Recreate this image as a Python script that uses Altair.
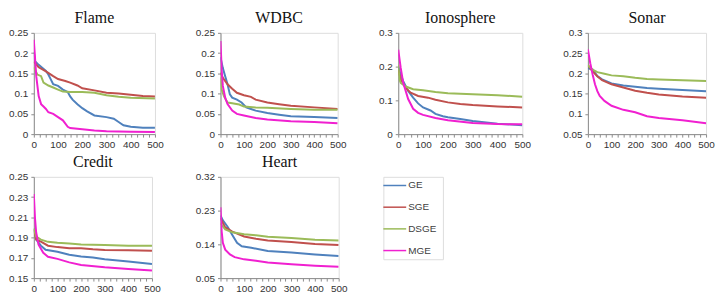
import altair as alt
import pandas as pd

SERIES = ["GE", "SGE", "DSGE", "MGE"]
COLORS = ["#4F81BD", "#C0504D", "#9BBB59", "#F020D0"]

# ---- Flame ----
flame_ge_x = [0, 5, 20, 50, 60, 70, 80, 100, 120, 140, 150, 160, 180, 200, 220, 250, 300, 330, 350, 370, 400, 450, 500]
flame_ge_y = [0.203, 0.18, 0.171, 0.156, 0.147, 0.135, 0.123, 0.119, 0.110, 0.104, 0.093, 0.085, 0.074, 0.064, 0.056, 0.046, 0.042, 0.038, 0.030, 0.022, 0.018, 0.016, 0.016]
flame_sge_x = [0, 20, 50, 80, 100, 130, 150, 180, 200, 250, 300, 350, 400, 450, 500]
flame_sge_y = [0.179, 0.165, 0.155, 0.143, 0.136, 0.131, 0.127, 0.120, 0.113, 0.108, 0.102, 0.100, 0.097, 0.094, 0.093]
flame_dsge_x = [0, 5, 15, 30, 40, 60, 80, 100, 120, 150, 200, 250, 300, 350, 400, 500]
flame_dsge_y = [0.165, 0.159, 0.147, 0.143, 0.127, 0.120, 0.115, 0.110, 0.105, 0.104, 0.104, 0.102, 0.096, 0.092, 0.090, 0.088]
flame_mge_x = [0, 10, 20, 30, 40, 50, 60, 80, 100, 120, 140, 150, 200, 250, 300, 400, 500]
flame_mge_y = [0.233, 0.143, 0.094, 0.074, 0.068, 0.062, 0.054, 0.050, 0.042, 0.034, 0.018, 0.015, 0.012, 0.009, 0.007, 0.006, 0.005]

# ---- WDBC ----
wdbc_ge_x = [0, 10, 20, 30, 40, 50, 70, 90, 110, 130, 150, 200, 250, 300, 400, 500]
wdbc_ge_y = [0.19, 0.163, 0.143, 0.123, 0.098, 0.09, 0.085, 0.078, 0.066, 0.062, 0.058, 0.052, 0.048, 0.044, 0.042, 0.040]
wdbc_sge_x = [0, 10, 30, 50, 70, 100, 130, 150, 200, 250, 300, 400, 500]
wdbc_sge_y = [0.152, 0.139, 0.123, 0.112, 0.102, 0.096, 0.092, 0.085, 0.078, 0.074, 0.070, 0.066, 0.062]
wdbc_dsge_x = [0, 5, 15, 30, 50, 80, 100, 150, 200, 300, 400, 500]
wdbc_dsge_y = [0.14, 0.11, 0.093, 0.078, 0.076, 0.073, 0.068, 0.066, 0.065, 0.062, 0.060, 0.060]
wdbc_mge_x = [0, 5, 10, 20, 30, 50, 70, 100, 150, 200, 300, 400, 500]
wdbc_mge_y = [0.23, 0.159, 0.119, 0.09, 0.074, 0.058, 0.05, 0.046, 0.04, 0.036, 0.032, 0.03, 0.027]

# ---- Ionosphere ----
iono_ge_x = [0, 10, 20, 40, 60, 80, 100, 130, 150, 180, 200, 250, 300, 400, 500]
iono_ge_y = [0.20, 0.176, 0.157, 0.128, 0.108, 0.091, 0.079, 0.070, 0.060, 0.053, 0.050, 0.045, 0.039, 0.031, 0.026]
iono_sge_x = [0, 10, 30, 50, 80, 120, 150, 200, 250, 300, 400, 500]
iono_sge_y = [0.19, 0.162, 0.137, 0.123, 0.113, 0.108, 0.102, 0.094, 0.089, 0.086, 0.082, 0.079]
iono_dsge_x = [0, 5, 10, 30, 60, 100, 150, 200, 300, 400, 500]
iono_dsge_y = [0.205, 0.162, 0.152, 0.141, 0.133, 0.130, 0.125, 0.121, 0.118, 0.115, 0.111]
iono_mge_x = [0, 10, 20, 40, 60, 80, 100, 150, 200, 300, 400, 500]
iono_mge_y = [0.25, 0.196, 0.152, 0.104, 0.075, 0.063, 0.057, 0.048, 0.041, 0.033, 0.030, 0.029]

# ---- Sonar ----
sonar_ge_x = [0, 20, 40, 60, 100, 150, 200, 250, 300, 400, 500]
sonar_ge_y = [0.213, 0.209, 0.193, 0.185, 0.175, 0.170, 0.167, 0.164, 0.162, 0.159, 0.156]
sonar_sge_x = [0, 20, 40, 60, 100, 150, 200, 250, 300, 400, 500]
sonar_sge_y = [0.22, 0.205, 0.193, 0.183, 0.173, 0.165, 0.157, 0.152, 0.148, 0.143, 0.140]
sonar_dsge_x = [0, 20, 40, 70, 100, 150, 200, 250, 300, 400, 500]
sonar_dsge_y = [0.22, 0.209, 0.203, 0.199, 0.195, 0.193, 0.189, 0.186, 0.185, 0.183, 0.181]
sonar_mge_x = [0, 10, 20, 30, 40, 50, 70, 100, 150, 200, 250, 300, 400, 500]
sonar_mge_y = [0.259, 0.225, 0.197, 0.173, 0.156, 0.144, 0.132, 0.12, 0.11, 0.104, 0.094, 0.09, 0.084, 0.077]

# ---- Credit ----
credit_ge_x = [0, 10, 30, 50, 100, 150, 200, 250, 300, 400, 500]
credit_ge_y = [0.199, 0.188, 0.182, 0.178, 0.176, 0.173, 0.1713, 0.1703, 0.1687, 0.1665, 0.164]
credit_sge_x = [0, 10, 30, 60, 100, 150, 200, 250, 300, 400, 500]
credit_sge_y = [0.198, 0.188, 0.186, 0.182, 0.1806, 0.1794, 0.1794, 0.1784, 0.1777, 0.1774, 0.1771]
credit_dsge_x = [0, 10, 30, 60, 100, 150, 200, 300, 400, 500]
credit_dsge_y = [0.199, 0.191, 0.188, 0.1858, 0.1848, 0.1842, 0.1832, 0.1826, 0.182, 0.182]
credit_mge_x = [0, 5, 10, 20, 40, 60, 100, 150, 200, 300, 400, 500]
credit_mge_y = [0.233, 0.209, 0.195, 0.183, 0.175, 0.171, 0.169, 0.1655, 0.163, 0.1607, 0.159, 0.1574]

# ---- Heart ----
heart_ge_x = [0, 10, 30, 50, 70, 90, 130, 200, 300, 400, 500]
heart_ge_y = [0.217, 0.204, 0.187, 0.165, 0.144, 0.135, 0.131, 0.122, 0.118, 0.113, 0.109]
heart_sge_x = [0, 20, 50, 100, 150, 200, 300, 400, 500]
heart_sge_y = [0.21, 0.185, 0.174, 0.161, 0.155, 0.150, 0.146, 0.141, 0.138]
heart_dsge_x = [0, 20, 50, 100, 150, 200, 300, 400, 500]
heart_dsge_y = [0.196, 0.18, 0.172, 0.167, 0.164, 0.160, 0.157, 0.152, 0.150]
heart_mge_x = [0, 5, 10, 20, 40, 60, 100, 150, 200, 300, 400, 500]
heart_mge_y = [0.239, 0.174, 0.144, 0.126, 0.113, 0.106, 0.10, 0.096, 0.0915, 0.087, 0.083, 0.080]

# axis ticks
x_ticks = list(range(0, 501, 25))
flame_ticks = [0, 0.05, 0.1, 0.15, 0.2, 0.25]
wdbc_ticks = [0, 0.05, 0.1, 0.15, 0.2, 0.25]
iono_ticks = [0, 0.1, 0.2, 0.3]
sonar_ticks = [0.05, 0.1, 0.15, 0.2, 0.25, 0.3]
credit_ticks = [0.15, 0.17, 0.19, 0.21, 0.23, 0.25]
heart_ticks = [0.05, 0.14, 0.23, 0.32]

AX_COLOR = "#8C8C8C"
LABEL_COLOR = "#333333"
LABEL_FONT = "Liberation Sans"
TITLE_FONT = "Liberation Serif"

color_scale = alt.Scale(domain=SERIES, range=COLORS)


def panel(name, curves, ticks, width):
    x_axis = alt.Axis(values=x_ticks, labelExpr="datum.value % 100 == 0 ? datum.label : ''",
                      title=None, grid=False, tickSize=3, labelPadding=2,
                      domainColor=AX_COLOR, tickColor=AX_COLOR, labelColor=LABEL_COLOR,
                      labelFont=LABEL_FONT, labelFontSize=10, labelFlush=False, labelOverlap=False)
    y_axis = alt.Axis(values=ticks, format="~g", title=None, grid=False, tickSize=3, labelPadding=3,
                      domainColor=AX_COLOR, tickColor=AX_COLOR, labelColor=LABEL_COLOR,
                      labelFont=LABEL_FONT, labelFontSize=10, labelFlush=False, labelOverlap=False)
    layers = []
    for s, (xs, ys) in zip(SERIES, curves):
        df = pd.DataFrame({"x": xs, "y": ys, "series": s})
        layers.append(
            alt.Chart(df).mark_line(strokeWidth=2, clip=True).encode(
                x=alt.X("x:Q", scale=alt.Scale(domain=[0, 500], nice=False), axis=x_axis),
                y=alt.Y("y:Q", scale=alt.Scale(domain=[ticks[0], ticks[-1]], nice=False, zero=False), axis=y_axis),
                color=alt.Color("series:N", scale=color_scale, legend=None),
            )
        )
    return alt.layer(*layers).properties(
        width=width, height=102,
        title=alt.TitleParams(name, font=TITLE_FONT, fontSize=16, fontWeight=100,
                              color="#111111", offset=2),
    )


flame = panel("Flame", [(flame_ge_x, flame_ge_y), (flame_sge_x, flame_sge_y),
                        (flame_dsge_x, flame_dsge_y), (flame_mge_x, flame_mge_y)], flame_ticks, 122)
wdbc = panel("WDBC", [(wdbc_ge_x, wdbc_ge_y), (wdbc_sge_x, wdbc_sge_y),
                      (wdbc_dsge_x, wdbc_dsge_y), (wdbc_mge_x, wdbc_mge_y)], wdbc_ticks, 118)
iono = panel("Ionosphere", [(iono_ge_x, iono_ge_y), (iono_sge_x, iono_sge_y),
                            (iono_dsge_x, iono_dsge_y), (iono_mge_x, iono_mge_y)], iono_ticks, 125)
sonar = panel("Sonar", [(sonar_ge_x, sonar_ge_y), (sonar_sge_x, sonar_sge_y),
                        (sonar_dsge_x, sonar_dsge_y), (sonar_mge_x, sonar_mge_y)], sonar_ticks, 119)
credit = panel("Credit", [(credit_ge_x, credit_ge_y), (credit_sge_x, credit_sge_y),
                          (credit_dsge_x, credit_dsge_y), (credit_mge_x, credit_mge_y)], credit_ticks, 119)
heart = panel("Heart", [(heart_ge_x, heart_ge_y), (heart_sge_x, heart_sge_y),
                        (heart_dsge_x, heart_dsge_y), (heart_mge_x, heart_mge_y)], heart_ticks, 119)

# custom legend panel
leg_df = pd.DataFrame({"series": SERIES})
leg_y = alt.Y("series:N", sort=SERIES, axis=None, scale=alt.Scale(type="point", padding=0.4))
leg_base = alt.Chart(leg_df)
leg_lines = leg_base.mark_rule(strokeWidth=1.5).encode(
    x=alt.value(0), x2=alt.value(23), y=leg_y,
    color=alt.Color("series:N", scale=color_scale, legend=None),
)
leg_text = leg_base.mark_text(align="left", baseline="middle", font=LABEL_FONT, fontSize=10,
                              color="#404040").encode(
    x=alt.value(25), y=leg_y, text="series:N",
)
legend_panel = alt.layer(leg_lines, leg_text).properties(
    width=60, height=83,
    title=alt.TitleParams(" ", font=TITLE_FONT, fontSize=16, offset=2),
)

top = alt.hconcat(flame, wdbc, iono, sonar, spacing=31)
bottom = alt.hconcat(credit, heart, legend_panel, spacing=34)

chart = alt.vconcat(top, bottom, spacing=3).properties(padding=0).configure_view(
    strokeWidth=0
).configure_title(fontWeight=100).configure(background="white")

chart.save("out.html", embed_options={"renderer": "svg", "actions": False})
